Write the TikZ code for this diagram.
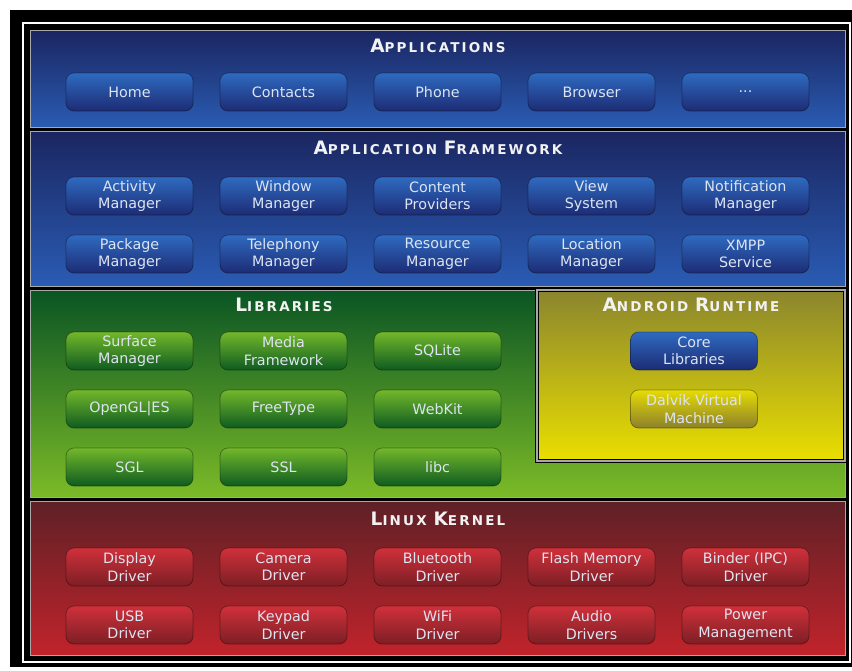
\documentclass[tikz,border=0pt]{standalone}
\usepackage{fontspec}
\setmainfont{DejaVu Sans}
\newfontfamily\titlefont{DejaVu Sans}[LetterSpace=16]
\definecolor{appTop}{HTML}{1B2661}
\definecolor{appBot}{HTML}{2A5CB4}
\definecolor{libTop}{HTML}{0A5524}
\definecolor{libBot}{HTML}{7CBB27}
\definecolor{artTop}{HTML}{8A852E}
\definecolor{artBot}{HTML}{EADF00}
\definecolor{kerTop}{HTML}{5E2126}
\definecolor{kerBot}{HTML}{C2232B}
\definecolor{bbTop}{HTML}{2F6AC0}
\definecolor{bbBot}{HTML}{1C2C74}
\definecolor{gbTop}{HTML}{72B82A}
\definecolor{gbBot}{HTML}{0F5B21}
\definecolor{rbTop}{HTML}{D0303A}
\definecolor{rbBot}{HTML}{7C1F25}
\definecolor{ybTop}{HTML}{E6DC04}
\definecolor{ybBot}{HTML}{8C802C}
\definecolor{boxText}{HTML}{DDE4F2}
\definecolor{titleText}{HTML}{F2F2F2}
\definecolor{sepGray}{HTML}{A8A8A8}
\newcommand\bigC[1]{{\fontsize{18.5}{18}\selectfont #1}}
\tikzset{
  layer/.style={draw=sepGray, line width=1.3pt, anchor=north west, inner sep=0pt},
  ttl/.style={text=titleText, font=\titlefont\bfseries\fontsize{13.5}{15}\selectfont, inner sep=0pt},
  comp/.style={rounded corners=8pt, minimum width=127pt, minimum height=38pt,
    draw=black, draw opacity=0.35, line width=0.8pt, text=boxText, align=center,
    font=\fontsize{14.3}{17.5}\selectfont, inner sep=0pt},
  bluebox/.style={comp, top color=bbTop, bottom color=bbBot},
  greenbox/.style={comp, top color=gbTop, bottom color=gbBot},
  redbox/.style={comp, top color=rbTop, bottom color=rbBot},
  yellowbox/.style={comp, top color=ybTop, bottom color=ybBot},
}
\begin{document}
\begin{tikzpicture}[x=1pt,y=-1pt]
\useasboundingbox (0,0) rectangle (852,670);
\fill[white] (0,0) rectangle (852,670);
\fill[black] (10,10) rectangle (852,667);
\draw[white, line width=2pt] (22.5,22.5) rectangle (849.5,662);
% layers
\node[layer, minimum width=815pt, minimum height=97pt, top color=appTop, bottom color=appBot] (apps) at (30,30) {};
\node[layer, minimum width=815pt, minimum height=155pt, top color=appTop, bottom color=appBot] (fw) at (30,131) {};
\node[layer, minimum width=815pt, minimum height=207pt, top color=libTop, bottom color=libBot] (libs) at (30,290) {};
\node[layer, minimum width=815pt, minimum height=154pt, top color=kerTop, bottom color=kerBot] (kern) at (30,501) {};
\node[anchor=north west, inner sep=0pt, minimum width=308pt, minimum height=171pt,
  draw=black, double=sepGray, double distance=1.6pt, line width=1.4pt,
  top color=artTop, bottom color=artBot] (art) at (536,289) {};
% titles
\node[ttl] (tApps) at (438,46) {\bigC{A}PPLICATIONS};
\node[ttl] (tFw) at (438,148) {\bigC{A}PPLICATION \bigC{F}RAMEWORK};
\node[ttl] (tLibs) at (284,305) {\bigC{L}IBRARIES};
\node[ttl] (tArt) at (691,305) {\bigC{A}NDROID \bigC{R}UNTIME};
\node[ttl] (tKern) at (438,519) {\bigC{L}INUX \bigC{K}ERNEL};
% applications
\node[bluebox] (home) at (129.5,92) {Home};
\node[bluebox] (contacts) at (283.5,92) {Contacts};
\node[bluebox] (phone) at (437.5,92) {Phone};
\node[bluebox] (browser) at (591.5,92) {Browser};
\node[bluebox] (more) at (745.5,92) {...};
% framework
\node[bluebox] (actm) at (129.5,196) {Activity\\Manager};
\node[bluebox] (winm) at (283.5,196) {Window\\Manager};
\node[bluebox] (cont) at (437.5,196) {Content\\Providers};
\node[bluebox] (view) at (591.5,196) {View\\System};
\node[bluebox] (notm) at (745.5,196) {Notification\\Manager};
\node[bluebox] (pkgm) at (129.5,254) {Package\\Manager};
\node[bluebox] (telm) at (283.5,254) {Telephony\\Manager};
\node[bluebox] (resm) at (437.5,254) {Resource\\Manager};
\node[bluebox] (locm) at (591.5,254) {Location\\Manager};
\node[bluebox] (xmpp) at (745.5,254) {XMPP\\Service};
% libraries
\node[greenbox] (surf) at (129.5,351) {Surface\\Manager};
\node[greenbox] (media) at (283.5,351) {Media\\Framework};
\node[greenbox] (sqlite) at (437.5,351) {SQLite};
\node[greenbox] (opengl) at (129.5,409) {OpenGL|ES};
\node[greenbox] (freet) at (283.5,409) {FreeType};
\node[greenbox] (webkit) at (437.5,409) {WebKit};
\node[greenbox] (sgl) at (129.5,467) {SGL};
\node[greenbox] (ssl) at (283.5,467) {SSL};
\node[greenbox] (libc) at (437.5,467) {libc};
% android runtime
\node[bluebox] (core) at (694,351) {Core\\Libraries};
\node[yellowbox] (dalvik) at (694,409) {Dalvik Virtual\\Machine};
% kernel
\node[redbox] (disp) at (129.5,567) {Display\\Driver};
\node[redbox] (cam) at (283.5,567) {Camera\\Driver};
\node[redbox] (bt) at (437.5,567) {Bluetooth\\Driver};
\node[redbox] (flash) at (591.5,567) {Flash Memory\\Driver};
\node[redbox] (binder) at (745.5,567) {Binder (IPC)\\Driver};
\node[redbox] (usb) at (129.5,625) {USB\\Driver};
\node[redbox] (keypad) at (283.5,625) {Keypad\\Driver};
\node[redbox] (wifi) at (437.5,625) {WiFi\\Driver};
\node[redbox] (audio) at (591.5,625) {Audio\\Drivers};
\node[redbox] (power) at (745.5,625) {Power\\Management};
\end{tikzpicture}
\end{document}
